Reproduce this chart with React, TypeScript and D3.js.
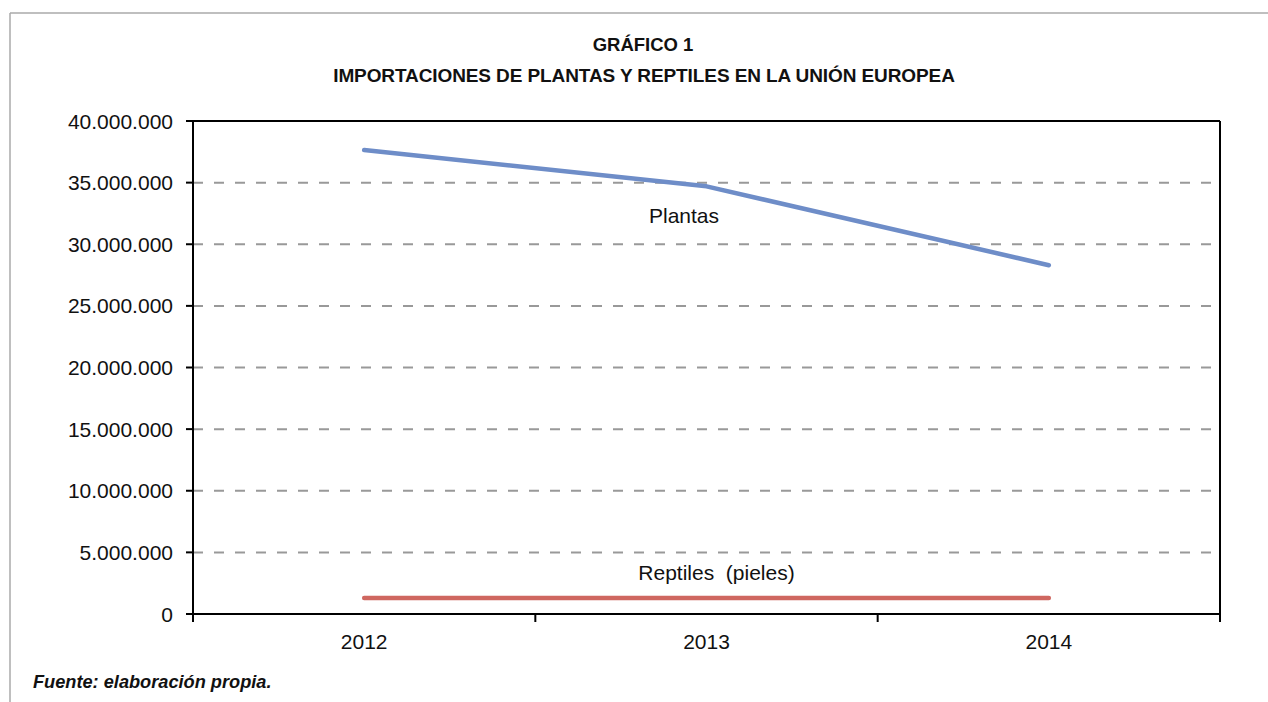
import React from "react";
import * as d3 from "d3";

const years = ["2012", "2013", "2014"];
const plantas = [37650000, 34700000, 28300000];
const reptiles = [1300000, 1300000, 1300000];
const yTicks = [0, 5000000, 10000000, 15000000, 20000000, 25000000, 30000000, 35000000, 40000000];

const W = 1268;
const H = 702;
const left = 193;
const right = 1220;
const top = 121;
const bottom = 614;

const loc = d3.formatLocale({ decimal: ",", thousands: ".", grouping: [3], currency: ["", ""] });
const fmt = loc.format(",d");

export default function App() {
  const x = d3.scaleBand<string>().domain(years).range([left, right]).paddingInner(0).paddingOuter(0);
  const y = d3.scaleLinear().domain([0, 40000000]).range([bottom, top]);
  const cx = (d: string) => (x(d) as number) + x.bandwidth() / 2;
  const line = d3
    .line<number>()
    .x((_, i) => cx(years[i]))
    .y((v) => y(v));
  const font = "'Liberation Sans', Arial, Helvetica, sans-serif";
  const bandEdges = [left, ...years.map((d) => (x(d) as number) + x.bandwidth())];

  return (
    <svg width={W} height={H} style={{ position: "absolute", left: 0, top: 0, background: "#fff" }} fontFamily={font}>
      <rect x={0} y={0} width={W} height={H} fill="#fff" />
      {/* outer frame */}
      <line x1={10} x2={W} y1={13} y2={13} stroke="#aaa" strokeWidth={1.5} />
      <line x1={10} x2={10} y1={13} y2={H} stroke="#aaa" strokeWidth={1.5} />

      {/* title */}
      <text x={643} y={51} textAnchor="middle" fontSize={18.5} fontWeight="bold" fill="#111">
        GRÁFICO 1
      </text>
      <text x={644} y={82} textAnchor="middle" fontSize={19} fontWeight="bold" fill="#111" letterSpacing={-0.1}>
        IMPORTACIONES DE PLANTAS Y REPTILES EN LA UNIÓN EUROPEA
      </text>

      {/* gridlines */}
      {yTicks.slice(1, -1).map((t) => (
        <line key={t} x1={left} x2={right} y1={y(t)} y2={y(t)} stroke="#999" strokeWidth={2} strokeDasharray="10,11" />
      ))}

      {/* plot frame */}
      <line x1={left} x2={right} y1={top} y2={top} stroke="#000" strokeWidth={2} />
      <line x1={right} x2={right} y1={top} y2={bottom + 8} stroke="#000" strokeWidth={2} />
      <line x1={left} x2={left} y1={top} y2={bottom + 8} stroke="#000" strokeWidth={2} />
      <line x1={left - 7} x2={right} y1={bottom} y2={bottom} stroke="#000" strokeWidth={2} />

      {/* y ticks */}
      {yTicks.map((t) => (
        <g key={t}>
          <line x1={left - 7} x2={left} y1={y(t)} y2={y(t)} stroke="#000" strokeWidth={2} />
          <text x={173} y={y(t) + 7.5} textAnchor="end" fontSize={21} fill="#111">
            {fmt(t)}
          </text>
        </g>
      ))}

      {/* x ticks */}
      {bandEdges.map((e, i) => (
        <line key={i} x1={e} x2={e} y1={bottom} y2={bottom + 8} stroke="#000" strokeWidth={2} />
      ))}
      {years.map((d) => (
        <text key={d} x={cx(d)} y={648.5} textAnchor="middle" fontSize={21} fill="#111">
          {d}
        </text>
      ))}

      {/* series */}
      <path d={line(reptiles) as string} fill="none" stroke="#cf6760" strokeWidth={4.5} strokeLinecap="round" />
      <path d={line(plantas) as string} fill="none" stroke="#6e8dc8" strokeWidth={4.5} strokeLinecap="round" strokeLinejoin="round" />

      {/* labels */}
      <text x={684} y={223} textAnchor="middle" fontSize={21} fill="#111">
        Plantas
      </text>
      <text x={716.5} y={580} textAnchor="middle" fontSize={21} fill="#111" style={{ whiteSpace: "pre" }}>
        {"Reptiles  (pieles)"}
      </text>

      {/* footer */}
      <text x={33} y={688} fontSize={18.2} fontWeight="bold" fontStyle="italic" fill="#111">
        Fuente: elaboración propia.
      </text>
    </svg>
  );
}
